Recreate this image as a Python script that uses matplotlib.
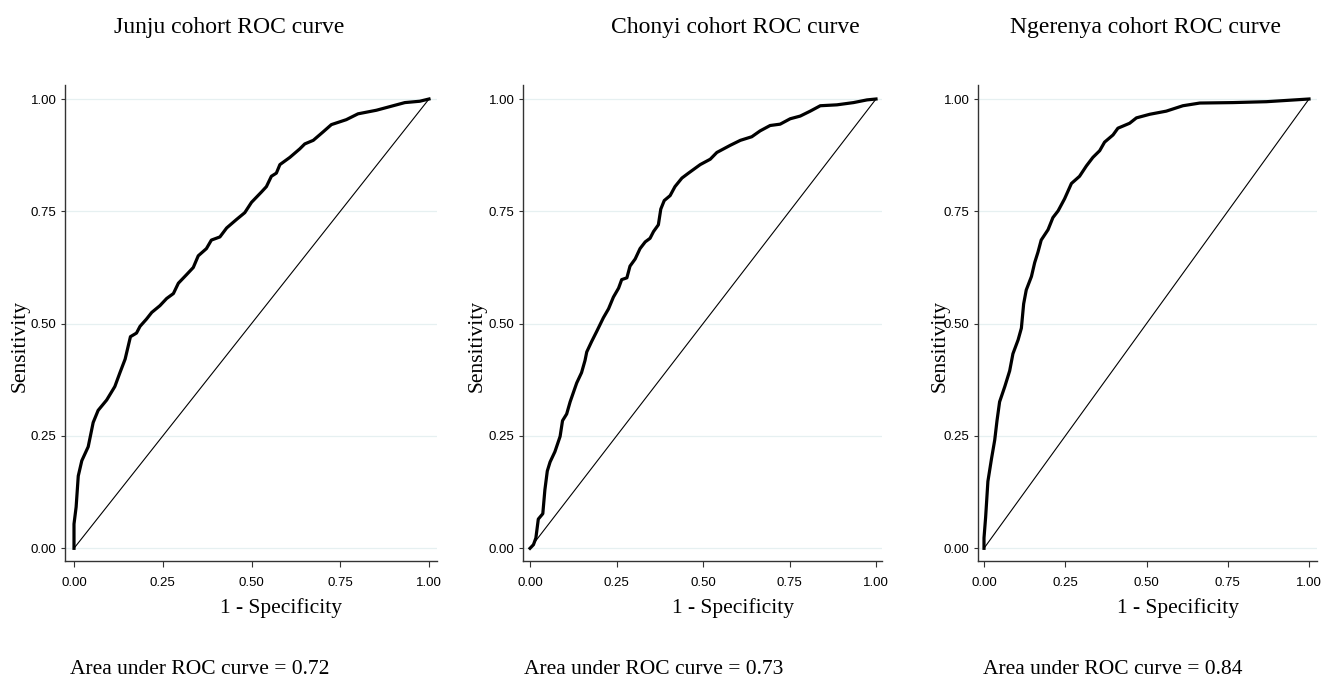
import matplotlib
matplotlib.use("Agg")
import matplotlib.pyplot as plt

titles = ["Junju cohort ROC curve", "Chonyi cohort ROC curve", "Ngerenya cohort ROC curve"]
auc_labels = ["Area under ROC curve = 0.72", "Area under ROC curve = 0.73", "Area under ROC curve = 0.84"]
ticks = [0.0, 0.25, 0.5, 0.75, 1.0]
tick_labels = ["0.00", "0.25", "0.50", "0.75", "1.00"]

junju_fpr = [0, 0, 0.006, 0.012, 0.022, 0.040, 0.047, 0.054, 0.068, 0.092, 0.115, 0.129, 0.144, 0.159,
             0.176, 0.186, 0.204, 0.219, 0.242, 0.261, 0.280, 0.294, 0.317, 0.336, 0.350, 0.373, 0.387,
             0.411, 0.430, 0.458, 0.481, 0.500, 0.528, 0.542, 0.556, 0.570, 0.580, 0.608, 0.636, 0.650,
             0.674, 0.702, 0.725, 0.767, 0.800, 0.852, 0.899, 0.932, 0.974, 1.0]
junju_tpr = [0, 0.054, 0.092, 0.161, 0.195, 0.226, 0.253, 0.280, 0.307, 0.330, 0.360, 0.390, 0.421, 0.471,
             0.479, 0.494, 0.510, 0.525, 0.540, 0.556, 0.567, 0.590, 0.609, 0.625, 0.651, 0.667, 0.686,
             0.693, 0.713, 0.732, 0.747, 0.770, 0.793, 0.805, 0.828, 0.835, 0.854, 0.870, 0.889, 0.900,
             0.908, 0.927, 0.943, 0.954, 0.967, 0.975, 0.985, 0.992, 0.995, 1.0]

chonyi_fpr = [0, 0.010, 0.017, 0.024, 0.037, 0.043, 0.050, 0.058, 0.072, 0.087, 0.094, 0.106, 0.116, 0.135,
              0.149, 0.159, 0.164, 0.178, 0.193, 0.212, 0.227, 0.241, 0.256, 0.265, 0.280, 0.289, 0.304,
              0.318, 0.333, 0.347, 0.357, 0.371, 0.378, 0.388, 0.405, 0.419, 0.439, 0.458, 0.492, 0.521,
              0.540, 0.579, 0.608, 0.641, 0.665, 0.694, 0.723, 0.752, 0.781, 0.810, 0.839, 0.887, 0.935,
              0.974, 1.0]
chonyi_tpr = [0, 0.008, 0.023, 0.065, 0.077, 0.130, 0.172, 0.192, 0.215, 0.249, 0.284, 0.299, 0.326, 0.368,
              0.391, 0.418, 0.437, 0.460, 0.483, 0.513, 0.533, 0.559, 0.579, 0.598, 0.602, 0.628, 0.644,
              0.667, 0.682, 0.690, 0.705, 0.720, 0.755, 0.774, 0.785, 0.805, 0.824, 0.835, 0.854, 0.866,
              0.881, 0.897, 0.908, 0.916, 0.929, 0.941, 0.944, 0.956, 0.962, 0.973, 0.985, 0.987, 0.992,
              0.998, 1.0]

ngerenya_fpr = [0, 0, 0.005, 0.012, 0.023, 0.033, 0.040, 0.048, 0.064, 0.079, 0.089, 0.105, 0.115, 0.122,
                0.130, 0.146, 0.156, 0.166, 0.176, 0.197, 0.212, 0.228, 0.248, 0.269, 0.294, 0.315, 0.335,
                0.356, 0.371, 0.397, 0.412, 0.448, 0.469, 0.510, 0.561, 0.612, 0.664, 0.766, 0.869, 1.0]
ngerenya_tpr = [0, 0.023, 0.069, 0.149, 0.199, 0.241, 0.284, 0.326, 0.360, 0.395, 0.433, 0.464, 0.490, 0.544,
                0.575, 0.605, 0.636, 0.659, 0.686, 0.709, 0.736, 0.751, 0.778, 0.812, 0.828, 0.851, 0.870,
                0.885, 0.904, 0.920, 0.935, 0.946, 0.958, 0.966, 0.973, 0.985, 0.991, 0.992, 0.994, 1.0]

curves = [(junju_fpr, junju_tpr), (chonyi_fpr, chonyi_tpr), (ngerenya_fpr, ngerenya_tpr)]

W, H = 1338, 678
fig = plt.figure(figsize=(W / 100, H / 100), dpi=100)
serif = ["Liberation Serif", "DejaVu Serif"]
sans = ["Liberation Sans", "DejaVu Sans"]

# axes pixel boxes: left, right, and data x positions of 0 and 1
boxes = [(65, 437, 74, 429), (523, 882, 530, 876), (978, 1317, 984, 1309)]
top_px, bot_px = 85, 561
y0_px, y1_px = 548.3, 99
title_x = [229.5, 735, 1146]
auc_x = [70, 524, 983]
xlab_x = [281, 733, 1178]
ylab_x = [20, 477, 940]

for i, (l, r, x0, x1) in enumerate(boxes):
    ax = fig.add_axes([l / W, 1 - bot_px / H, (r - l) / W, (bot_px - top_px) / H])
    sx = (x1 - x0)
    ax.set_xlim((l - x0) / sx, (r - x0) / sx)
    sy = (y0_px - y1_px)
    ax.set_ylim(-(bot_px - y0_px) / sy, (y0_px - top_px) / sy)
    for y in ticks:
        ax.axhline(y, color="#e6f0f1", lw=0.9, zorder=0)
    fpr, tpr = curves[i]
    ax.plot([0, 1], [0, 1], color="black", lw=0.8, zorder=2)
    ax.plot(fpr, tpr, color="black", lw=2.3, solid_joinstyle="round", zorder=3)
    ax.spines["top"].set_visible(False)
    ax.spines["right"].set_visible(False)
    for s in ("left", "bottom"):
        ax.spines[s].set_color("#333333")
        ax.spines[s].set_linewidth(1.0)
    ax.set_xticks(ticks)
    ax.set_xticklabels(tick_labels, fontfamily=sans, fontsize=9.5)
    ax.set_yticks(ticks)
    ax.set_yticklabels(tick_labels, fontfamily=sans, fontsize=9.5)
    ax.tick_params(axis="x", direction="out", length=4.5, width=0.8, color="#333333", pad=7)
    ax.tick_params(axis="y", direction="out", length=3, width=0.8, color="#333333", pad=3)
    ax.set_xlabel("1 - Specificity", fontfamily=serif, fontsize=15.5)
    ax.xaxis.set_label_coords((xlab_x[i] - l) / (r - l), (bot_px - 608) / (bot_px - top_px))
    ax.xaxis.label.set_va("center")
    ax.set_ylabel("Sensitivity", fontfamily=serif, fontsize=15.5)
    ax.yaxis.set_label_coords((ylab_x[i] - l) / (r - l), (bot_px - 346) / (bot_px - top_px))
    ax.yaxis.label.set_va("center")
    fig.text(title_x[i] / W, 1 - 32.5 / H, titles[i], fontfamily=serif, fontsize=17,
             ha="center", va="baseline")
    fig.text(auc_x[i] / W, 1 - 674 / H, auc_labels[i], fontfamily=serif, fontsize=15.5,
             ha="left", va="baseline")

fig.savefig("out.png", dpi=100, facecolor="white")
